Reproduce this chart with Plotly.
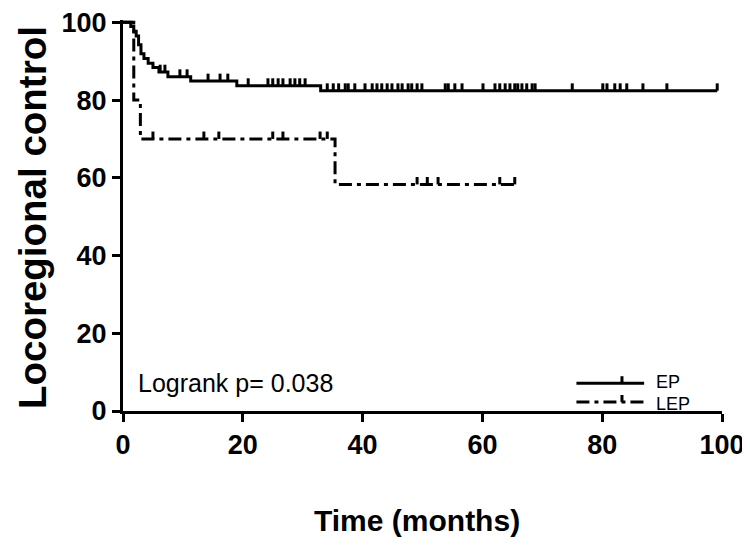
import plotly.graph_objects as go

# ---- data ----
ep_time = [0, 1.3, 1.8, 2.2, 2.6, 3.0, 3.5, 4.2, 5.0, 6.0, 7.5, 11.3, 19.0, 33.0]
ep_surv = [100, 98.9, 97.7, 96.5, 94.2, 91.9, 90.7, 89.5, 88.4, 87.2, 86.0, 84.9, 83.7, 82.4]
ep_end = 99.2
ep_censor = [6.2, 7.0, 9.5, 10.7, 14.2, 16.2, 17.5, 20.9, 24.2, 25.0, 25.9, 26.7, 27.9,
             28.7, 29.5, 30.4, 34.1, 35.1, 36.0, 37.1, 37.6, 38.7, 40.4, 41.6, 42.4, 43.2,
             44.1, 44.9, 45.9, 46.6, 47.6, 48.2, 49.1, 49.9, 53.8, 54.3, 55.4, 56.6, 60.1,
             62.1, 62.9, 63.8, 64.6, 65.4, 65.9, 66.6, 67.4, 68.3, 68.8, 75.0, 80.1, 80.8,
             82.1, 83.0, 84.1, 86.8, 90.8, 99.2]

lep_time = [0, 1.8, 2.9, 35.4]
lep_surv = [100, 80, 70, 58.3]
lep_end = 65.9
lep_censor = [5.0, 13.5, 16.0, 25.0, 26.7, 32.9, 34.1, 49.1, 50.8, 52.6, 62.9, 65.4]

x_ticks = [0, 20, 40, 60, 80, 100]
y_ticks = [0, 20, 40, 60, 80, 100]
series_names = ["EP", "LEP"]
logrank_text = "Logrank p= 0.038"

TICK_H = 1.9  # censor tick height in data units
FONT = "Arial, Liberation Sans, sans-serif"


def step_value(times, surv, t):
    v = surv[0]
    for ti, si in zip(times, surv):
        if ti <= t:
            v = si
    return v


def censor_segments(times, surv, cens):
    xs, ys = [], []
    for c in cens:
        v = step_value(times, surv, c)
        xs += [c, c, None]
        ys += [v, v + TICK_H, None]
    return xs, ys


fig = go.Figure()

DASHDOT = "13px,5px,4px,5px"
styles = {"EP": dict(color="black", width=3, dash="solid"),
          "LEP": dict(color="black", width=3, dash=DASHDOT)}

for name, times, surv, end, cens in [("EP", ep_time, ep_surv, ep_end, ep_censor),
                                      ("LEP", lep_time, lep_surv, lep_end, lep_censor)]:
    fig.add_trace(go.Scatter(x=times + [end], y=surv + [surv[-1]], mode="lines",
                             line=dict(shape="hv", **styles[name]), showlegend=False,
                             name=name))
    cx, cy = censor_segments(times, surv, cens)
    fig.add_trace(go.Scatter(x=cx, y=cy, mode="lines",
                             line=dict(color="black", width=3), showlegend=False))

# manual legend (paper coordinates)
legend_rows = [(series_names[0], 0.071, 0.075, "solid"), (series_names[1], 0.023, 0.019, DASHDOT)]
for name, py, ty, dash in legend_rows:
    fig.add_shape(type="line", xref="paper", yref="paper", x0=0.757, x1=0.87, y0=py, y1=py,
                  line=dict(color="black", width=3, dash=dash))
    fig.add_shape(type="line", xref="paper", yref="paper", x0=0.833, x1=0.833, y0=py, y1=py + 0.018,
                  line=dict(color="black", width=3))
    fig.add_annotation(xref="paper", yref="paper", x=0.886, y=ty, text=name, showarrow=False,
                       xanchor="left", yanchor="middle",
                       font=dict(size=18, color="black", family=FONT))

fig.add_annotation(xref="paper", yref="paper", x=0.022, y=0.071, text=logrank_text,
                   showarrow=False, xanchor="left", yanchor="middle",
                   font=dict(size=25, color="black", family=FONT))

# axis titles
fig.add_annotation(xref="paper", yref="paper", x=-0.152, y=0.496, text="Locoregional control",
                   showarrow=False, textangle=-90, xanchor="center", yanchor="middle",
                   font=dict(size=38.5, color="black", family=FONT, weight="bold"))
fig.add_annotation(xref="paper", yref="paper", x=0.49, y=-0.281, text="Time (months)",
                   showarrow=False, xanchor="center", yanchor="middle",
                   font=dict(size=30, color="black", family=FONT, weight="bold"))

axis_common = dict(showline=True, linecolor="black", linewidth=3, ticks="outside",
                   ticklen=8, tickwidth=3, tickcolor="black", showgrid=False, zeroline=False,
                   automargin=False, ticklabeloverflow="allow",
                   tickfont=dict(size=27, color="black", family=FONT, weight="bold"))

fig.update_xaxes(range=[0, 100], tickvals=x_ticks, ticktext=[str(v) for v in x_ticks], **axis_common)
fig.update_yaxes(range=[0, 100.6], tickvals=y_ticks, ticktext=[str(v) for v in y_ticks], **axis_common)

# page body has an 8px default margin: figure is 742x540 placed at (8, 8)
fig.update_layout(width=742, height=540, margin=dict(l=115, r=28, t=12, b=137, autoexpand=False),
                  plot_bgcolor="white", paper_bgcolor="white", showlegend=False)

fig.write_html("out.html")
